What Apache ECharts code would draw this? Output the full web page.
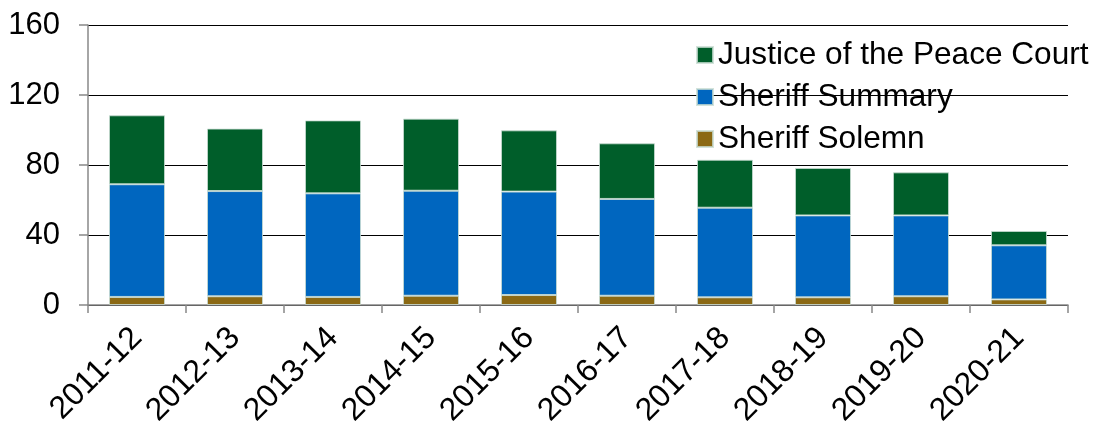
<!DOCTYPE html>
<html>
<head>
<meta charset="utf-8">
<script src="https://cdn.jsdelivr.net/npm/echarts@6/dist/echarts.min.js"></script>
<style>
  html, body { margin: 0; padding: 0; background: #fff; }
  #chart { width: 1095px; height: 426px; }
</style>
</head>
<body>
<div id="chart"></div>
<script>
var categories = ['2011-12', '2012-13', '2013-14', '2014-15', '2015-16', '2016-17', '2017-18', '2018-19', '2019-20', '2020-21'];
var sheriffSolemn = [4.6, 5.0, 4.6, 5.3, 5.7, 5.3, 4.4, 4.4, 5.0, 3.2];
var sheriffSummary = [64.4, 60.1, 59.2, 60.0, 59.1, 55.3, 51.2, 46.8, 46.2, 30.9];
var justicePeace = [39.4, 35.7, 41.7, 41.2, 35.0, 31.8, 27.4, 27.1, 24.6, 8.2];
var yTicks = [0, 40, 80, 120, 160];

var chart = echarts.init(document.getElementById('chart'));
var barBorder = { borderColor: 'rgba(200,220,210,0.8)', borderWidth: 1 };
var option = {
  animation: false,
  textStyle: { fontFamily: 'Liberation Sans, Arial, sans-serif' },
  grid: { left: 88, right: 27, top: 25, bottom: 121, containLabel: false, outerBoundsMode: 'none' },
  legend: {
    orient: 'vertical',
    left: 691,
    top: 34,
    itemWidth: 16,
    itemHeight: 16,
    itemGap: 10,
    icon: 'rect',
    data: ['Justice of the Peace Court', 'Sheriff Summary', 'Sheriff Solemn'],
    textStyle: { fontSize: 31.6, color: '#000', padding: [0, 0, 0, 0], lineHeight: 30 }
  },
  xAxis: {
    type: 'category',
    data: categories,
    axisLine: { lineStyle: { color: '#888', width: 1.5 } },
    axisTick: { show: true, length: 8, lineStyle: { color: '#888', width: 1.5 } },
    axisLabel: { rotate: 45, fontSize: 32, color: '#000', margin: 28, interval: 0 },
    splitLine: { show: false }
  },
  yAxis: {
    type: 'value',
    min: yTicks[0],
    max: yTicks[yTicks.length - 1],
    interval: 40,
    axisLine: { show: true, lineStyle: { color: '#888', width: 1.5 } },
    axisTick: { show: true, length: 9, lineStyle: { color: '#888', width: 1.5 } },
    axisLabel: { fontSize: 31, color: '#000', margin: 28 },
    splitLine: { lineStyle: { color: '#000', width: 1 } }
  },
  series: [
    {
      name: 'Sheriff Solemn', type: 'bar', stack: 'total', barWidth: 56,
      itemStyle: Object.assign({ color: '#8B6914' }, barBorder),
      data: sheriffSolemn
    },
    {
      name: 'Sheriff Summary', type: 'bar', stack: 'total', barWidth: 56,
      itemStyle: Object.assign({ color: '#0066BF' }, barBorder),
      data: sheriffSummary
    },
    {
      name: 'Justice of the Peace Court', type: 'bar', stack: 'total', barWidth: 56,
      itemStyle: Object.assign({ color: '#005E2A' }, barBorder),
      data: justicePeace
    }
  ]
};
chart.setOption(option);
</script>
</body>
</html>
